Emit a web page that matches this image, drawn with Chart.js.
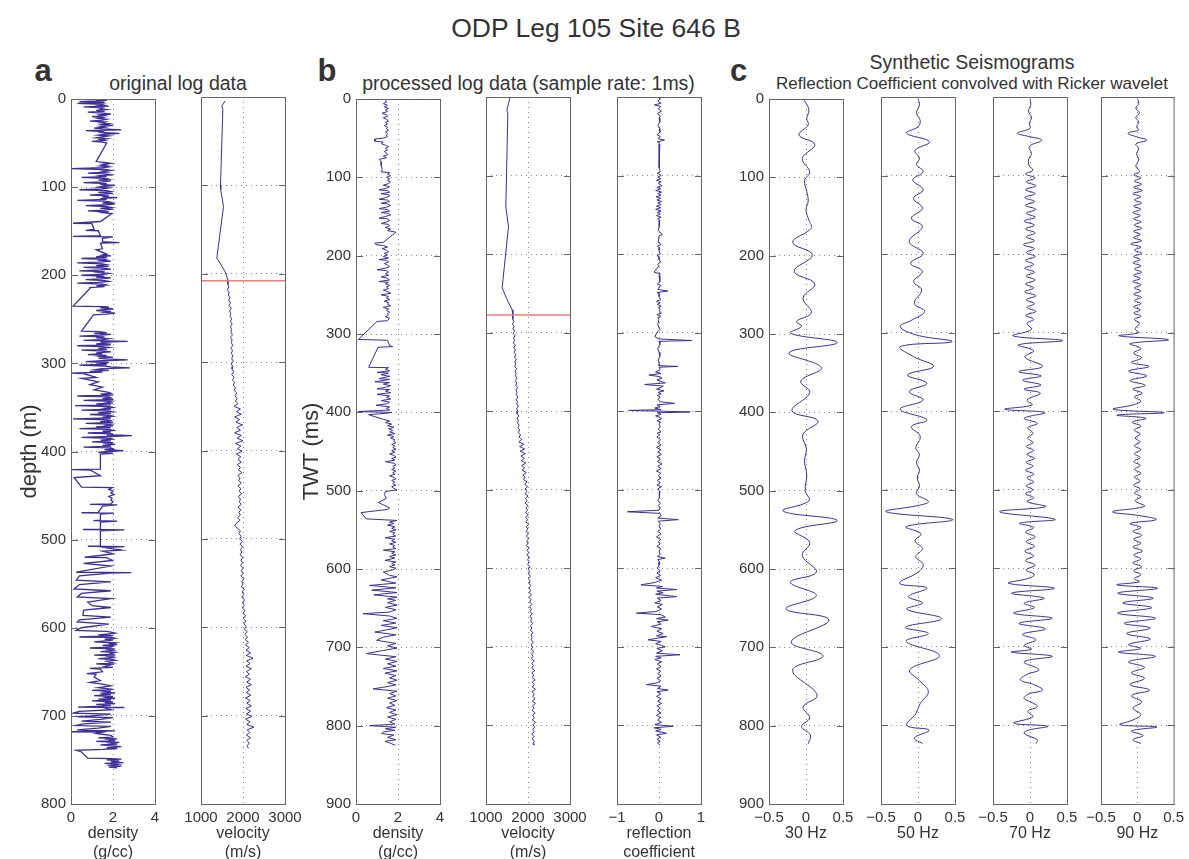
<!DOCTYPE html>
<html>
<head>
<meta charset="utf-8">
<script src="https://cdn.jsdelivr.net/npm/chart.js@4.4.1/dist/chart.umd.min.js"></script>
<style>
  body { margin: 0; width: 1189px; height: 859px; overflow: hidden; background: #fff;
         font-family: "Liberation Sans", Arial, sans-serif; color: #333; position: relative; }
  canvas { position: absolute; }
  .t { position: absolute; white-space: nowrap; line-height: 1; transform: translateX(-50%); }
  .letra { font-weight: bold; font-size: 31px; top: 54.8px; }
</style>
</head>
<body>
<div class="t" style="left:596px;top:14.6px;font-size:26.5px">ODP Leg 105 Site 646 B</div>
<div class="t letra" style="left:43px">a</div>
<div class="t letra" style="left:327px">b</div>
<div class="t letra" style="left:738.5px">c</div>
<div class="t" style="left:178px;top:73.5px;font-size:19.5px">original log data</div>
<div class="t" style="left:528.5px;top:73.5px;font-size:19.5px">processed log data (sample rate: 1ms)</div>
<div class="t" style="left:972px;top:52.5px;font-size:19.5px">Synthetic Seismograms</div>
<div class="t" style="left:972px;top:74.9px;font-size:17px">Reflection Coefficient convolved with Ricker wavelet</div>

<script>
// marcas de los ejes
const marcasProfundidad = [0, 100, 200, 300, 400, 500, 600, 700, 800];
const marcasTWT = [0, 100, 200, 300, 400, 500, 600, 700, 800, 900];
const marcasDensidad = [0, 2, 4];
const marcasVelocidad = [1000, 2000, 3000];
const marcasReflexion = [-1, 0, 1];
const marcasSismo = [-0.5, 0, 0.5];

// a) datos originales: profundidad (m) y densidad (g/cc)
const profundidadOriginal = [
  0.5,1,1.5,2,3,3.5,4,5,6,7,8,9,10,11,12,13,14,15,16,17,18,19,20,21,22,23,24,25,26,27,28,29,30,31,32,33,34,35,36,37,38,39,40,41,42,43,44,45,46,47,48,49,50,
  71,72,73,74,75,76,77,78,79,80,81,82,83,84,85,86,87,88,89,90,91,92,93,94,95,96,97,98,99,100,
  101,102,103,104,105,106,107,108,109,110,111,112,113,114,115,116,117,118,119,120,121,122,123,124,125,126,127,128,129,130,
  139,141,141.5,148,149,149.5,155,156,156.5,158,162,163,163.5,170,171,176,
  177,178,179,180,181,182,183,184,185,186,187,188,189,190,191,192,193,194,195,196,
  197,198,199,200,201,202,203,204,205,206,207,208,209,210,211,212,213,214,215,
  235,235.5,236,237,238,239,240,241,242,243,244,245,263.5,
  264,265,266,267,268,269,270,271,272,273,274,275,276,277,278,279,280,281,282,283,
  284,285,286,287,288,289,290,291,292,293,294,295,296,297,298,299,300,301,302,303,
  304,305,306,307,308,309,310,311,
  311.5,316,317,321,324,327,330,333,
  334,335,336,337,338,339,340,341,342,343,344,345,346,347,348,349,350,351,352,353,
  354,355,356,357,358,359,360,361,362,363,364,365,366,367,368,369,370,371,372,373,
  374,375,376,377,378,379,380,381,382,383,384,385,386,387,388,389,390,391,392,393,
  394,395,396,397,398,399,400,401,402,403,
  420,420.5,421,427.5,429.5,440.5,441,443,445,447,449,451,453,455,457,459.5,460,460.5,462,469,
  469.5,470,471,478,478.5,479,480,488,488.5,489,490,507,507.5,508,509,512,513,516,518,520,520.5,
  523.7,527,530,537,537.5,538,541,546,548,551,556,558,561,565,567,571,575,577,580,586,
  588,591,593.5,596,600,603,604,
  605,606,607,608,609,610.5,611,612,613,614,616,617,618,619,620,621,622,623,624,625,
  626,627,628,629,630,631,632,633,634,635,636,637,638,640,641,642,644,645,646,647,
  650,652,652.5,656,660,662,
  664,666,668,670,671,672,673,674,675,676,677,678,679,680,681,682,683,684,685,686,
  687,688,689,690,690.5,691,
  693,695,697,698,700,701,702,704,706,707,709,711,712,714,716,717,718,718.5,720,722,
  724,725,726,727,728,729,730,731,732,733,734,735,736,737,738,739,741,748,748.5,749,
  750,751,752,753,754,755,756,757,758,759
];
const densidadOriginal = [
  1.6,1.2,1.7,1.5,0.4,1.4,1.6,0.3,1.5,1.3,1.8,0.6,1.5,1.4,1.7,1.2,1.6,0.8,1.5,1.9,1.4,1.6,1.0,1.5,1.3,1.7,1.5,0.9,1.6,1.4,1.8,1.5,2.0,1.4,1.6,1.1,1.5,2.4,0.7,1.5,1.4,2.3,1.6,1.3,1.8,1.5,1.2,1.7,1.4,1.6,1.0,1.5,1.7,
  1.2,1.6,1.9,1.5,1.7,1.4,1.8,1.5,0.0,1.6,1.9,1.5,1.7,0.8,1.6,2.0,1.4,1.7,0.5,1.6,1.8,1.3,1.9,1.5,0.6,1.7,1.4,2.1,1.6,1.3,
  1.8,1.5,0.4,1.7,1.9,1.3,2.0,1.6,0.9,1.8,1.5,2.2,1.4,1.7,0.3,1.6,1.9,1.5,2.1,1.7,0.7,1.6,1.9,1.4,2.0,1.6,0.8,1.8,1.5,1.95,
  1.4,0.1,1.0,1.1,0.7,1.3,1.4,0.1,2.0,1.5,1.5,2.3,1.4,1.5,1.2,1.7,
  1.5,1.9,1.2,1.7,0.5,1.6,1.4,1.9,1.3,0.3,1.5,1.7,1.2,1.8,0.6,1.5,1.9,1.4,0.4,1.6,
  1.3,1.8,1.5,0.5,1.6,1.2,1.9,1.4,0.7,1.6,1.8,1.3,0.3,1.5,1.7,1.2,1.6,0.9,0.9,
  0.1,1.5,1.8,1.4,2.0,1.6,1.2,1.9,1.6,2.1,1.7,1.07,0.5,
  1.3,1.7,1.1,1.9,1.4,0.4,1.6,1.2,1.8,1.5,0.6,2.7,1.4,1.7,1.2,1.9,0.3,1.5,1.8,1.3,
  1.7,0.5,1.6,1.9,1.2,1.5,0.8,1.7,1.4,2.0,1.3,1.6,2.7,1.5,0.7,1.8,1.4,1.7,0.4,1.6,
  1.9,2.8,1.5,1.2,1.8,0.9,1.5,0.0,
  0.6,1.2,0.5,1.3,0.9,1.5,1.1,1.8,
  1.9,1.4,2.0,0.3,1.8,1.9,1.5,2.0,0.6,1.9,1.7,2.0,1.2,1.9,0.2,1.8,2.0,1.6,1.9,0.5,
  1.8,2.0,1.3,1.9,0.9,1.8,2.0,1.5,1.9,0.1,1.8,1.9,1.4,2.0,0.7,1.9,1.7,2.0,1.2,1.9,
  0.4,1.8,2.0,1.5,1.9,0.8,2.0,1.7,2.9,1.8,0.5,1.9,2.0,1.4,1.9,1.0,2.0,1.7,2.1,1.5,
  1.9,0.6,1.9,2.0,1.6,2.5,1.8,1.3,2.0,1.4,
  1.4,0.05,0.9,1.4,0.15,0.5,1.97,1.8,2.0,1.9,2.05,1.8,1.95,1.9,2.0,1.9,0.9,2.2,1.5,1.3,
  0.5,2.05,1.4,1.4,1.07,2.2,1.4,1.4,0.57,2.54,1.4,1.4,0.8,2.54,1.6,2.4,1.5,2.0,1.4,0.65,1.7,
  1.97,0.6,1.9,0.25,2.87,1.9,0.4,0.25,1.9,0.4,0.15,1.9,0.5,0.3,1.9,0.8,1.0,1.9,0.6,0.57,
  1.9,0.4,0.3,1.8,0.5,0.25,1.7,
  1.9,2.1,1.8,1.3,2.0,0.4,1.9,2.1,1.6,2.0,1.1,2.1,1.9,2.2,1.5,2.0,1.9,0.9,2.1,1.8,
  2.0,1.4,2.1,1.9,2.0,1.1,2.1,1.8,2.0,1.3,1.9,2.1,1.7,2.0,1.2,1.9,1.6,2.0,0.9,1.4,
  1.5,0.75,1.2,1.1,1.4,0.9,
  1.5,1.9,1.3,2.0,1.0,1.9,1.6,2.1,1.4,1.9,1.1,2.0,1.7,2.1,1.3,1.9,1.0,2.0,1.6,2.1,
  1.2,1.9,1.5,0.33,2.54,1.6,
  1.9,0.4,0.1,1.9,1.0,0.3,2.0,1.4,0.5,1.9,0.6,0.2,1.9,1.3,0.3,2.1,0.0,1.5,1.2,1.9,
  2.0,1.3,2.2,1.8,2.1,1.2,2.3,1.9,2.2,1.4,2.0,2.4,1.7,2.2,1.5,0.25,0.5,0.8,1.9,2.4,
  1.7,2.3,1.9,2.5,1.6,2.2,1.9,2.4,1.8,2.2
];

// a) velocidad original (m/s)
const profundidadVelocidad = [
  4.5,10,14,100,105,124,182.5,188,198,207,
  212,215,218,221,224,227,230,233,236,239,242,245,248,251,254,257,260,263,266,269,
  272,275,278,281,284,287,290,293,296,299,302,305,308,311,314,317,320,323,326,329,
  332,335,338,341,344,347,350,353,356,359,362,365,368,371,374,377,380,383,386,389,
  392,395,398,401,404,407,410,413,416,419,422,425,428,431,434,437,440,443,446,449,
  452,455,458,461,464,467,470,473,476,479,482,485,488,491,494,497,500,503,506,509,
  512,515,518,521,524,527,530,533,536,539,542,545,548,551,554,557,560,563,566,569,
  572,575,578,581,584,587,590,593,596,599,602,605,608,611,614,617,620,623,626,629,
  632,635,638,641,644,647,650,653,656,659,662,665,668,671,674,677,680,683,686,689,
  692,695,698,701,704,707,710,713,716,719,722,725,728,731,734,737
];
const velocidadOriginal = [
  1576,1496,1520,1464,1470,1536,1376,1456,1576,1640,
  1640,1660,1630,1670,1650,1690,1660,1700,1670,1720,1680,1710,1690,1730,1700,1740,1700,1730,1710,1750,
  1700,1740,1720,1760,1710,1750,1720,1760,1730,1770,1720,1760,1740,1780,1730,1790,1750,1800,1770,1820,
  1790,1850,1810,1860,1820,1880,1790,1940,1840,1960,1800,1920,1830,1990,1850,1940,1800,1960,1860,2000,
  1820,1950,1870,1980,1840,1950,1880,1960,1860,1940,1890,1970,1880,1930,1900,1960,1880,1950,1910,1970,
  1890,1940,1910,1960,1880,1950,1900,1940,1870,1930,1850,1800,1870,1940,1900,1960,1920,1980,1930,1990,
  1940,1970,1930,2000,1950,1990,1940,2010,1960,2000,1950,2020,1970,2000,1960,2030,1980,2020,1970,2040,
  1990,2030,1980,2050,2000,2060,2010,2070,2020,2080,2030,2100,2040,2110,2050,2130,2060,2150,2070,2180,
  2080,2240,2090,2170,2070,2200,2080,2150,2060,2180,2090,2200,2070,2160,2080,2190,2060,2170,2090,2200,
  2070,2180,2080,2210,2060,2170,2090,2260,2100,2160,2080,2180,2090,2150,2100,2130
];
const profundidadLimite = 208;

// b) datos procesados: tiempo doble (ms)
const tiempoDensidad = [
  0,2,4,6,8,10,12,14,16,18,20,22,24,26,28,30,32,34,36,38,
  40,42,44,46,48,50,51,54,55,57,59,61,63,65,67,69,71,73,75,77,
  80,85,90,93,94,96,98,100,102,104,106,108,110,112,114,116,117,119,121,122,
  124,126,128,129,131,133,134,136,138,140,141,143,145,146,148,150,152,153,155,157,
  159,160,162,164,166,168,170,183,184,186,187,189,191,193,195,197,199,201,203,205,
  206,208,210,212,214,216,218,219,221,223,225,227,229,231,233,234,236,238,240,242,
  244,246,248,250,252,254,256,258,260,262,264,266,268,270,272,274,276,278,280,283,
  284,307,308,315,316,317,342.5,343,345,347,349,350,352,354,357,358,361,362,364,366,
  368,370,371,373,375,377,379,381,383,385,387,389,391,393,395,397,399,400,401,403,
  409,411,413,415,417,419,421,423,425,427,429,431,433,435,437,439,441,443,445,447,
  449,451,453,455,457,459,461,463,465,467,469,471,473,475,477,479,481,483,485,487,
  489,491,493,495,497,499,501,505,510,515,522,524,528,536,538,540,542,544,546,548,
  550,552,554,556,558,560,562,564,566,568,570,572,574,576,578,580,582,584,586,589,
  591,593,595,597,599,601,604,608,610,614,618,621,624,627,630,633,636,638,640,643,
  646,649,652,655,657,660,663,666,669,672,675,678,680.5,684,687,691,695,698,701,704,
  708,712,715,718,721,724,727,730,733,736,739,742,745,748,751,753,756,759,762,765,
  768,771,774,777,780,783,786,789,792,795,798,800,802,804,806,808,810,812,815,818,
  820,822,825
];
const densidadProcesada = [
  1.5,1.4,1.45,1.3,1.5,1.35,1.55,1.4,1.5,1.25,1.45,1.5,1.3,1.45,1.55,1.4,1.5,1.35,1.5,1.45,
  1.55,1.4,1.5,1.45,1.5,1.3,0.9,0.9,1.3,1.2,1.4,1.55,1.4,1.5,1.35,1.45,1.5,1.3,1.45,1.1,
  1.2,1.2,1.25,1.2,1.6,1.5,1.65,1.45,1.6,1.5,1.65,1.55,1.3,1.6,1.45,1.1,1.5,1.6,1.2,1.55,
  1.6,1.4,1.1,1.5,1.6,1.2,1.5,1.65,1.45,1.1,1.5,1.6,1.2,1.55,1.65,1.4,1.1,1.5,1.6,1.45,
  1.2,1.55,1.6,1.4,1.65,1.5,1.9,1.3,0.9,0.95,1.3,1.5,1.25,1.45,1.55,1.35,1.5,1.3,1.55,1.1,
  1.45,1.55,1.35,1.5,1.6,1.4,1.0,1.45,1.55,1.4,1.55,1.2,1.5,1.6,1.1,1.55,1.4,1.6,1.45,1.55,
  1.3,1.5,1.65,1.2,1.55,1.45,1.6,1.35,1.55,1.5,1.65,1.3,1.55,1.45,1.6,1.5,1.55,1.4,1.6,1.5,
  1.0,0.11,1.5,1.6,1.75,1.05,0.6,1.55,1.4,1.6,1.0,1.55,1.2,1.6,1.1,1.6,0.9,1.6,1.3,1.65,
  1.4,1.0,1.6,1.4,1.65,1.0,1.6,1.45,1.65,1.2,1.6,1.5,0.95,1.6,1.45,1.6,0.11,1.7,1.5,0.6,
  1.3,1.6,1.4,1.7,1.5,1.8,1.55,1.75,1.6,1.85,1.5,1.8,1.65,1.85,1.8,1.9,1.7,1.85,1.75,1.9,
  1.7,1.85,1.6,1.8,1.9,1.7,1.85,1.4,1.8,1.9,1.75,1.85,1.7,1.9,1.75,1.85,1.6,1.8,1.9,1.7,
  1.85,1.75,1.9,1.7,1.8,1.95,1.4,1.35,1.45,1.06,1.6,1.5,0.24,0.48,1.95,1.6,1.8,1.5,1.85,1.7,
  1.9,1.6,1.85,1.75,1.9,1.38,1.85,1.7,1.9,1.6,1.85,1.75,1.9,1.3,1.85,1.7,1.9,1.6,1.85,1.38,
  1.9,1.7,1.85,1.6,1.9,1.75,1.3,1.6,1.95,1.2,1.9,0.65,1.9,0.75,1.95,0.85,1.95,1.5,1.9,1.5,
  1.95,1.4,1.9,1.6,0.33,1.6,1.95,1.3,1.9,1.2,1.95,1.4,0.9,1.9,1.3,0.98,1.9,1.5,1.95,1.3,
  0.5,1.9,1.4,1.95,1.5,1.9,1.3,1.95,1.38,1.9,1.6,1.95,1.5,1.9,1.3,0.81,1.95,1.6,1.9,1.5,
  1.95,1.6,1.85,1.45,1.9,1.6,1.95,1.5,1.9,1.6,1.85,0.65,1.9,1.4,1.85,1.3,1.22,1.8,1.5,1.9,
  1.38,1.6,1.87
];

const tiempoVelocidad = [
  0,17,21,140,165,243,258,271,280,
  283,286,289,292,295,298,301,304,307,310,313,316,319,322,325,328,331,334,337,340,
  343,346,349,352,355,358,361,364,367,370,373,376,379,382,385,388,391,394,397,400,
  403,406,409,412,415,418,421,424,427,430,433,436,439,442,445,448,451,454,457,460,
  463,466,469,472,475,478,481,484,487,490,493,496,499,502,505,508,511,514,517,520,
  523,526,529,532,535,538,541,544,547,550,553,556,559,562,565,568,571,574,577,580,
  583,586,589,592,595,598,601,604,607,610,613,616,619,622,625,628,631,634,637,640,
  643,646,649,652,655,658,661,664,667,670,673,676,679,682,685,688,691,694,697,700,
  703,706,709,712,715,718,721,724,727,730,733,736,739,742,745,748,751,754,757,760,
  763,766,769,772,775,778,781,784,787,790,793,796,799,802,805,808,811,814,817,820,
  823,825
];
const velocidadProcesada = [
  1576,1496,1520,1472,1536,1384,1504,1624,1640,
  1640,1660,1630,1670,1640,1680,1650,1690,1660,1680,1650,1700,1660,1700,1670,1710,1680,1720,1690,1710,
  1680,1730,1690,1720,1700,1740,1700,1730,1710,1750,1710,1740,1720,1760,1720,1750,1730,1770,1730,1760,
  1740,1780,1740,1770,1750,1790,1760,1800,1770,1820,1790,1850,1780,1900,1800,1920,1810,1940,1830,1910,
  1840,1950,1850,1920,1860,1960,1880,1930,1890,1980,1920,1990,1930,1970,1930,2000,1940,1980,1930,2000,
  1950,1990,1940,2010,1950,1990,1950,2020,1960,2000,1950,2010,1960,2020,1970,2000,1960,2030,1980,2020,
  1970,2040,1990,2030,1990,2050,2000,2040,2010,2060,2010,2050,2020,2070,2020,2060,2030,2080,2030,2070,
  2040,2090,2040,2080,2050,2100,2050,2090,2060,2110,2060,2090,2060,2120,2070,2100,2070,2130,2070,2110,
  2080,2140,2080,2120,2080,2150,2090,2130,2090,2160,2090,2140,2100,2170,2100,2150,2100,2180,2100,2150,
  2110,2170,2100,2180,2110,2140,2100,2170,2110,2150,2100,2180,2120,2160,2110,2150,2090,2140,2100,2150,
  2120,2140
];
const tiempoLimite = 277.5;

const tiempoReflexion = [
  0,3,5,8,10,12,15,18,21,24,27,32,36,40,45,48,50,53,55,57,
  60,65,80,90,95,97,100,102,104,106,108,110,113,115,117,119,121,123,125,127,
  129,131,133,135,137,139,141,143,145,147,149,151,153,155,157,160,165,170,175,177,
  185,188,190,192,195,200,202,204,207,210,213,215,223,225,227,235,238,240,242,245,
  247,249,251,254,258,260,262,264,266,268,270,272,275,277,279,281,283,290,296,300,
  305,308,310,311,315,320,325,330,335,340,342,343,344,347,350,352,354,356,358,360,
  362,364,366,368,370,372,374,376,378,380,382,385,388,390,392,394,396,398,399,400,
  401,402,404,406,408,410,412,414,416,420,423,426,428,430,433,436,440,443,446,449,
  452,455,458,461,464,467,470,473,476,479,482,485,488,491,494,496,499,502,506,510,
  514,517,520,523,526,528,530,533,536,538,540,543,546,550,553,556,560,563,566,569,
  572,575,578,582,585,587,589,592,596,600,603,606,609,612,615,618,621,623,625,627,
  629,631,633,636,638,641,644,646,649,652,655,657,659,662,664,666,668,671,674,677,
  680,683,686,687,689,691,693,696,698,700,702,705,708,710,712,714,716,719,722,725,
  728,731,734,737,740,743,746,748,750,753,755,757,760,763,766,769,772,775,778,781,
  784,787,790,793,796,799,801,803,805,807,810,812,815,818,820,822,825
];
const reflexion = [
  0,0.02,-0.03,0.05,-0.11,0.04,-0.02,0.06,-0.04,0.03,0,0.02,-0.03,0.01,0.02,-0.05,0.03,-0.02,0.13,-0.04,
  0.02,0,0.01,0,0.03,-0.04,0.05,-0.03,0.04,-0.06,0.05,-0.02,0.07,-0.05,0.04,-0.08,0.06,-0.03,0.05,-0.07,
  0.04,-0.05,0.06,-0.03,0.05,-0.06,0.04,-0.08,0.05,-0.04,0.03,-0.06,0.05,-0.03,0.02,0,0.01,-0.02,0.08,0,
  -0.02,0.05,-0.04,0.02,0,0.03,-0.05,0.02,0,0.04,-0.03,0,-0.12,0.03,0,0.02,-0.04,0.05,0,-0.03,
  0.21,-0.05,0.02,0,0.04,-0.06,0.03,-0.04,0.05,-0.02,0.03,0,0.06,-0.05,0.04,-0.03,0,-0.03,0.02,-0.05,
  -0.1,0,0.78,0,0.02,-0.03,0,0.02,-0.02,0.01,0,0.45,0,0.03,-0.08,0.05,-0.24,0.02,0.07,-0.05,
  0.04,0.15,-0.34,0.1,0.04,-0.06,0.12,-0.02,0.05,-0.04,0.03,-0.03,0.04,0.37,-0.05,0.03,-0.1,0.05,-0.72,0.1,
  0.74,-0.04,0.05,-0.08,0.03,0.06,-0.05,0.04,0,0.03,-0.02,0.05,-0.04,0.02,-0.05,0.04,-0.03,0.05,-0.06,0.04,
  -0.03,0.06,-0.05,0.03,-0.04,0.07,-0.03,0.05,-0.06,0.04,-0.02,0.05,-0.04,0.03,-0.05,0.06,-0.03,0.02,0,0.02,
  -0.03,0.04,-0.02,0.03,0,-0.75,0.02,0.05,-0.03,0.46,-0.02,0.03,0,0.04,-0.03,0.05,-0.06,0.04,-0.02,0.03,
  -0.05,0.04,0,0.03,-0.04,0.15,-0.03,0.02,0,-0.04,0.03,-0.05,0.04,-0.08,0.06,-0.1,-0.43,0.08,-0.06,0.42,
  -0.05,0.1,-0.08,0.42,-0.04,0.05,-0.1,0.08,-0.04,0.06,-0.08,-0.54,0.05,0.15,-0.06,0.22,-0.04,0.05,-0.18,0.06,
  -0.05,0.1,-0.06,0.18,-0.04,-0.26,0.05,-0.08,0.06,0.15,-0.05,0.08,-0.06,0.5,-0.08,0.05,-0.1,0.06,-0.04,0.05,
  -0.06,0.04,-0.03,0.05,-0.05,0.04,-0.06,-0.3,0.05,-0.04,0.22,-0.05,0.04,-0.06,0.05,-0.03,0.06,-0.05,0.03,-0.04,
  0.05,-0.06,0.04,-0.03,0.06,-0.1,0.34,-0.12,0.05,-0.08,0.18,-0.06,0.04,-0.05,0.03,-0.04,0.02
];

// c) sismogramas sinteticos
const tiempo30 = [
  2,14,25,33,46,58,76,93,104,118,130,142,155,165,183,199,220,236,254,273,
  284,290,299,311,324,343,360,375,398,411,428,447,462,480,500,513,526,538,551,566,
  583,604,617,634,651,665,693,711,729,761,776,790,801,812,823
];
const sismo30 = [
  -0.02,0.04,0.01,0.03,-0.095,0.118,-0.05,0.05,-0.02,0.01,0.03,0,0.04,0.07,-0.18,0.086,-0.16,0.118,-0.04,0.072,
  -0.13,-0.06,-0.21,0.42,-0.23,0.208,-0.07,0.05,-0.19,0.163,-0.04,0.005,-0.02,0.01,-0.01,0.04,-0.31,0.42,-0.15,0.05,
  -0.05,0.14,-0.21,0.14,-0.27,0.31,-0.2,0.23,-0.18,0.15,-0.04,0.05,-0.06,0.06,0.03
];
const tiempo50 = [
  2,10,20,30,38,46,57,68,78,86,95,105.6,118,129,141.7,154.4,165,184,199,211.7,
  222,235,245.6,262.6,273,283.8,292.3,303,311.4,317.8,330.5,343,353.8,364.4,375,385.7,397.5,411,419.6,432,
  447,455,465,475,485,495,505,515,520,528,538,547,556,565,575,585,595,605,619,625,
  636,644,652,664,675,683,693,711,729,743,757,772,785,800,806,816,823
];
const sismo50 = [
  0,0.02,-0.02,0.03,0,-0.155,0.154,-0.04,0.02,-0.02,0.07,-0.07,0.07,-0.06,0.06,-0.09,0.06,-0.12,0.07,-0.1,
  0.06,-0.06,0.05,-0.05,0.09,-0.08,-0.24,-0.02,0.46,-0.24,-0.06,0.21,-0.14,0.12,-0.12,0.07,-0.24,0.12,-0.09,0.03,
  -0.03,0.02,-0.02,0.02,-0.01,0.02,-0.02,0.14,0,-0.43,0.47,-0.16,0.04,-0.04,0.06,-0.03,0.07,0,-0.25,0.12,
  -0.13,0.06,-0.15,0.32,-0.17,0.14,-0.16,0.29,-0.11,0.02,0.14,0.03,-0.03,-0.15,0.15,-0.05,0.06
];
const tiempo70 = [
  2,10,18,26,34,40,46,50,55,63,72,80,88,93,98,103,108,113,118,123,
  128,133,138,143,148,153,158,163,168,173,178,183,188,193,198,203,208,213,218,223,
  228,233,238,243,248,253,258,263,268,273,278,283,288,296,304,310,315.6,323,331,343,
  349.6,355,360.5,366.6,372,377,385.7,392,397.5,401.8,409,415.4,421,428,434,440,445,450,455,460,
  465,470,475,480,485,490,495,500,505,510,515,521.5,528,537.6,542.6,548,554,560,566,572,
  578,584,590,596,602,608,613,619,625.4,631.6,638,644.4,650,657,663.5,670,677,684,691,698,
  703,706.6,712,719,729,735,742,748,755,760,765.5,771,776,782,789,797,801,806,810,818.5,
  823
];
const sismo70 = [
  0,0.01,-0.02,0.02,-0.01,0,-0.17,-0.03,0.16,-0.01,0.02,-0.02,-0.01,0.04,-0.06,0.07,-0.05,0.08,-0.06,0.07,
  -0.07,0.06,-0.06,0.08,-0.05,0.07,-0.08,0.06,-0.06,0.07,-0.05,0.06,-0.09,0.06,-0.05,0.07,-0.06,0.05,-0.07,0.06,
  -0.05,0.07,-0.06,0.05,-0.07,0.08,-0.05,0.06,-0.04,0.08,-0.06,0.05,-0.04,0.02,-0.23,0.44,-0.16,0.05,-0.07,0.17,
  -0.15,0.15,-0.1,0.15,-0.08,0.14,-0.04,0.03,-0.34,0.2,-0.08,0.1,-0.03,0.04,-0.03,0.04,-0.05,0.05,-0.04,0.06,
  -0.05,0.04,-0.06,0.05,-0.04,0.05,-0.05,0.04,-0.06,0.05,-0.04,0.21,-0.41,0.34,-0.14,0.05,-0.06,0.07,-0.05,0.06,
  -0.07,0.05,-0.06,0.07,-0.05,0.06,-0.03,-0.29,0.33,-0.25,0.19,-0.08,0.06,-0.22,0.3,-0.15,0.21,-0.1,0.08,-0.08,
  0.02,-0.25,0.3,-0.08,0.12,-0.04,-0.13,0.05,0.17,-0.02,-0.08,0.03,0.1,-0.03,0.04,-0.22,0.24,-0.02,-0.08,0.1,
  0.08
];
const tiempo90 = [
  2,8,14,20,26,32,38,42,46,51,55,60,66,72,80,88,95,99,103,107,
  111,115,119,123,127,131,135,139,143,147,151,155,159,163,167,171,175,179,183,187,
  191,195,199,203,207,211,215,219,223,227,231,235,239,243,247,251,255,259,263,267,
  271,275,279,283,288,295,300,304,309,314,320,326,332,338,343,349,355,361,367,372,
  377,382,387,392,397.5,401.8,405,409,414,419,424,429,434,439,444,449,454,459,464,469,
  474,479,484,489,494,499,504,509,514,521,528,533,538,543,548,553,558,563,568,573,
  578,583,588,593,598,603,608,613,617,621,625.4,631.6,638,644,650,657,663.5,670,676,683,
  690,697,702,706.6,712,719,726,733,740,748,755,762,770,778,786,793,799,802,807,813,
  818,823
];
const sismo90 = [
  0,0.02,-0.02,0.03,-0.02,0.02,-0.01,0.02,-0.13,0,0.13,-0.02,0.02,-0.01,0.02,-0.02,0.03,-0.05,0.05,-0.04,
  0.06,-0.05,0.07,-0.06,0.05,-0.04,0.06,-0.05,0.05,-0.06,0.04,-0.05,0.05,-0.04,0.06,-0.05,0.04,-0.05,0.06,-0.09,
  0.05,-0.04,0.06,-0.05,0.04,-0.06,0.05,-0.04,0.06,-0.05,0.04,-0.06,0.05,-0.04,0.05,-0.05,0.06,-0.04,0.05,-0.05,
  0.04,-0.05,0.05,-0.04,0.03,-0.03,0.02,-0.25,0.43,-0.1,0.05,-0.05,0.06,-0.08,0.16,-0.12,0.13,-0.1,0.11,-0.06,
  0.07,-0.04,0.05,-0.06,-0.33,0.37,-0.28,0.12,-0.07,0.05,-0.04,0.04,-0.03,0.04,-0.04,0.05,-0.04,0.04,-0.05,0.04,
  -0.04,0.05,-0.04,0.04,-0.05,0.04,-0.04,0.05,-0.03,0.1,-0.34,0.04,0.26,-0.1,0.05,-0.06,0.06,-0.05,0.05,-0.06,
  0.07,-0.05,0.05,-0.06,0.06,-0.05,0.05,-0.04,0.03,-0.28,0.28,-0.27,0.22,-0.2,0.2,-0.27,0.25,-0.18,0.18,-0.15,
  0.18,-0.12,0.05,-0.26,0.25,-0.12,0.1,-0.08,0.1,-0.1,0.17,-0.08,0.06,-0.06,0.05,-0.06,-0.24,0.27,-0.08,0.08,
  -0.06,0.05
];

const colorLinea = '#3d2e98';
const colorRojo = '#ef7b7b';
const colorTexto = '#333';
const colorMarco = '#666';
const colorRejilla = '#8c8c8c';
const fuente = '"Liberation Sans", Arial, sans-serif';

function unirPuntos(ys, xs) {
  if (ys.length !== xs.length) console.warn('longitudes distintas', ys.length, xs.length);
  const n = Math.min(ys.length, xs.length);
  const puntos = [];
  for (let i = 0; i < n; i++) puntos.push({ x: xs[i], y: ys[i] });
  return puntos;
}

// marco completo y marcas hacia dentro (estilo matlab)
const marcoEjes = {
  id: 'marcoEjes',
  afterDraw(chart) {
    const { ctx, chartArea: a, scales } = chart;
    ctx.save();
    ctx.strokeStyle = colorMarco;
    ctx.lineWidth = 1;
    ctx.strokeRect(a.left + 0.5, a.top + 0.5, a.right - a.left, a.bottom - a.top);
    ctx.beginPath();
    scales.y.ticks.forEach(t => {
      const py = Math.round(scales.y.getPixelForValue(t.value)) + 0.5;
      ctx.moveTo(a.left, py); ctx.lineTo(a.left + 7, py);
      ctx.moveTo(a.right + 1, py); ctx.lineTo(a.right - 6, py);
    });
    ctx.stroke();
    ctx.restore();
  }
};

const formato = v => String(v).replace('-', '\u2212');

function colorInterior(min, max) {
  return ctx => (ctx.tick && ctx.tick.value > min && ctx.tick.value < max) ? colorRejilla : 'rgba(0,0,0,0)';
}

function crearPanel(p) {
  const ML = p.ML || 25, MR = p.MR || 25, PT = 12, ABAJO = 58;
  const izq = p.L - ML, arriba = 97 - PT;
  const lienzo = document.createElement('canvas');
  lienzo.width = p.R - p.L + ML + MR;
  lienzo.height = 862 - arriba;
  lienzo.style.left = izq + 'px';
  lienzo.style.top = arriba + 'px';
  document.body.appendChild(lienzo);

  const minX = p.marcasX[0], maxX = p.marcasX[p.marcasX.length - 1];
  const maxY = p.marcasY[p.marcasY.length - 1];

  const datasets = [];
  if (p.limite !== undefined) {
    datasets.push({
      data: [{ x: minX, y: p.limite }, { x: maxX, y: p.limite }],
      showLine: true, borderColor: colorRojo, borderWidth: 1.5, pointRadius: 0
    });
  }
  datasets.push({
    data: unirPuntos(p.ys, p.xs),
    showLine: true, borderColor: colorLinea, borderWidth: p.grosor || 1, pointRadius: 0,
    tension: p.suave ? 0.4 : 0
  });

  new Chart(lienzo, {
    type: 'scatter',
    data: { datasets },
    options: {
      responsive: false,
      animation: false,
      events: [],
      layout: { padding: { left: 0, right: MR, top: PT, bottom: 0 } },
      plugins: { legend: { display: false }, tooltip: { enabled: false } },
      scales: {
        x: {
          type: 'linear', min: minX, max: maxX,
          afterFit: s => { s.height = ABAJO; },
          afterBuildTicks: s => { s.ticks = p.marcasX.map(v => ({ value: v })); },
          ticks: { autoSkip: false, maxRotation: 0, padding: 5, color: colorTexto,
                   font: { family: fuente, size: 15 }, callback: formato },
          grid: { drawTicks: false, lineWidth: 1, color: colorInterior(minX, maxX) },
          border: { display: false, dash: [1, 4] },
          title: { display: true, text: p.tituloX, color: colorTexto,
                   font: { family: fuente, size: 16 },
                   padding: { top: 0, bottom: Array.isArray(p.tituloX) ? 0 : 19 } }
        },
        y: {
          type: 'linear', reverse: true, min: 0, max: maxY,
          afterFit: s => { s.width = ML; },
          afterBuildTicks: s => { s.ticks = p.marcasY.map(v => ({ value: v })); },
          ticks: { display: !!p.etiquetasY, autoSkip: false, padding: 5, color: colorTexto,
                   font: { family: fuente, size: 15 } },
          grid: { drawTicks: false, lineWidth: 1, color: colorInterior(0, maxY) },
          border: { display: false, dash: [1, 4] },
          title: { display: !!p.tituloY, text: p.tituloY || '', color: colorTexto,
                   font: { family: fuente, size: 22 }, padding: 0 }
        }
      }
    },
    plugins: [marcoEjes]
  });
}

const paneles = [
  { L: 71, R: 155, ML: 54, marcasY: marcasProfundidad, etiquetasY: true, tituloY: 'depth (m)',
    marcasX: marcasDensidad, tituloX: ['density', '(g/cc)'], ys: profundidadOriginal, xs: densidadOriginal, grosor: 1.3 },
  { L: 201, R: 285, marcasY: marcasProfundidad, marcasX: marcasVelocidad, tituloX: ['velocity', '(m/s)'],
    ys: profundidadVelocidad, xs: velocidadOriginal, limite: profundidadLimite },
  { L: 356, R: 440, ML: 57, marcasY: marcasTWT, etiquetasY: true, tituloY: 'TWT (ms)',
    marcasX: marcasDensidad, tituloX: ['density', '(g/cc)'], ys: tiempoDensidad, xs: densidadProcesada },
  { L: 486, R: 570, marcasY: marcasTWT, marcasX: marcasVelocidad, tituloX: ['velocity', '(m/s)'],
    ys: tiempoVelocidad, xs: velocidadProcesada, limite: tiempoLimite },
  { L: 617, R: 701, marcasY: marcasTWT, marcasX: marcasReflexion, tituloX: ['reflection', 'coefficient'],
    ys: tiempoReflexion, xs: reflexion },
  { L: 769, R: 843, ML: 45, marcasY: marcasTWT, etiquetasY: true, marcasX: marcasSismo, tituloX: '30 Hz',
    ys: tiempo30, xs: sismo30, suave: true },
  { L: 881, R: 955, marcasY: marcasTWT, marcasX: marcasSismo, tituloX: '50 Hz',
    ys: tiempo50, xs: sismo50, suave: true },
  { L: 993, R: 1067, marcasY: marcasTWT, marcasX: marcasSismo, tituloX: '70 Hz',
    ys: tiempo70, xs: sismo70, suave: true },
  { L: 1101, R: 1175, MR: 14, marcasY: marcasTWT, marcasX: marcasSismo, tituloX: '90 Hz',
    ys: tiempo90, xs: sismo90, suave: true }
];

paneles.forEach(crearPanel);
</script>
</body>
</html>
